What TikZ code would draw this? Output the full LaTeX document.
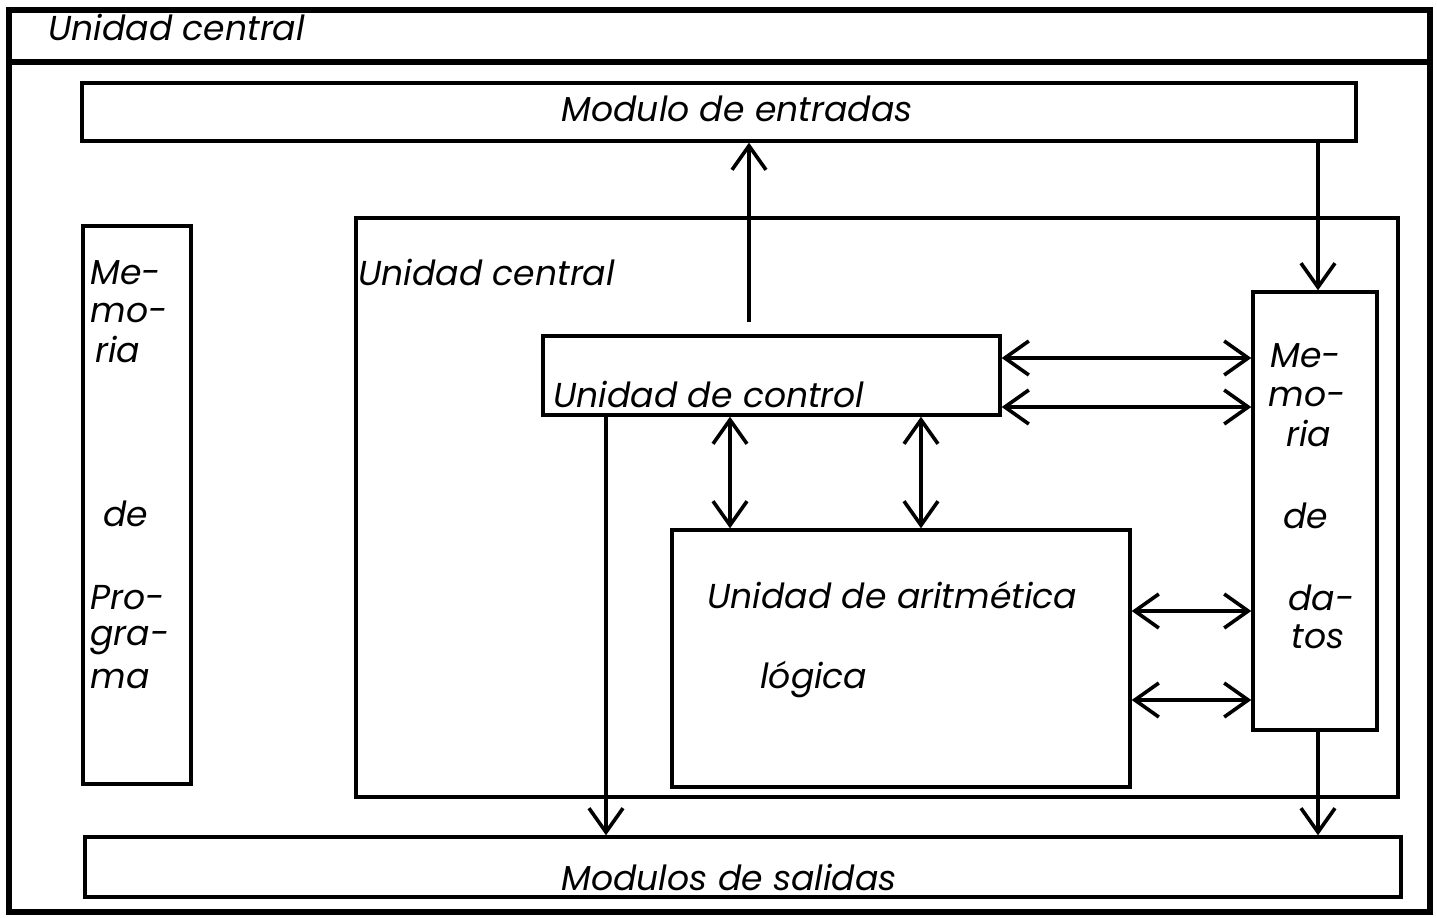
\documentclass[tikz,border=0pt]{standalone}
\usepackage{fontspec}
\setmainfont{Poppins}
\usetikzlibrary{arrows.meta,fit}

\begin{document}
\begin{tikzpicture}[x=0.5pt,y=-0.5pt,
    >={Straight Barb[length=12pt,width=17pt]}]
  \tikzstyle{box}=[draw, line width=1.7pt, inner sep=0pt]
  \tikzstyle{txt}=[font=\fontsize{17.3}{20}\selectfont\itshape,
       inner sep=0pt, anchor=base west]
  \tikzstyle{link}=[line width=1.8pt, ->]
  \tikzstyle{link2}=[line width=1.8pt, <->]
  \useasboundingbox (0,0) rectangle (1437,917);

  % frame and title bar
  \node[box, line width=2.6pt, fit={(9,10) (1430,912)}] (frame) {};
  \draw[line width=2.6pt] (frame.west |- 0,62) -- (frame.east |- 0,62);
  \node[txt] (title) at (48,40) {Unidad central};

  % boxes
  \node[box, fit={(82,83) (1356,141)}] (entradas) {};
  \node[txt, anchor=base] (entradastxt) at (737,121) {Modulo de entradas};
  \node[box, fit={(83,226) (191,784)}] (memprog) {};
  \node[box, fit={(356,218) (1398,797)}] (central) {};
  \node[txt] (centraltxt) at (358,285) {Unidad central};
  \node[box, fit={(543,336) (1000,415)}] (control) {};
  \node[txt] (controltxt) at (553,407) {Unidad de control};
  \node[box, fit={(1253,292) (1377,730)}] (memdatos) {};
  \node[box, fit={(672,530) (1130,787)}] (alu) {};
  \node[txt] (alutxt) at (707,608) {Unidad de aritmética};
  \node[txt] (alutxtb) at (760,688) {lógica};
  \node[box, fit={(85,837) (1401,897)}] (salidas) {};
  \node[txt, anchor=base] (salidastxt) at (729,890) {Modulos de salidas};

  % split words
  \foreach \t/\x/\y [count=\i] in {Me-/90/284, mo-/90/322, ria/95/362,
      de/103/526, Pro-/90/609, gra-/90/645, ma/90/688}
    \node[txt] (mp\i) at (\x,\y) {\t};
  \foreach \t/\x/\y [count=\i] in {Me-/1270/367, mo-/1268/406, ria/1286/446,
      de/1283/528, da-/1288/610, tos/1291/648}
    \node[txt] (md\i) at (\x,\y) {\t};

  % connections
  \coordinate (cup) at (749,322);
  \coordinate (din) at (1318,0);
  \draw[link] (cup) -- (cup |- entradas.south);
  \draw[link] (din |- entradas.south) -- (din |- memdatos.north);
  \draw[link2] (control.east |- 0,358) -- (memdatos.west |- 0,358);
  \draw[link2] (control.east |- 0,407) -- (memdatos.west |- 0,407);
  \draw[link2] (alu.east |- 0,611) -- (memdatos.west |- 0,611);
  \draw[link2] (alu.east |- 0,700) -- (memdatos.west |- 0,700);
  \draw[link2] (control.south -| 730,0) -- (alu.north -| 730,0);
  \draw[link2] (control.south -| 921,0) -- (alu.north -| 921,0);
  \draw[link] (control.south -| 606,0) -- (salidas.north -| 606,0);
  \draw[link] (memdatos.south -| din) -- (salidas.north -| din);
\end{tikzpicture}
\end{document}
